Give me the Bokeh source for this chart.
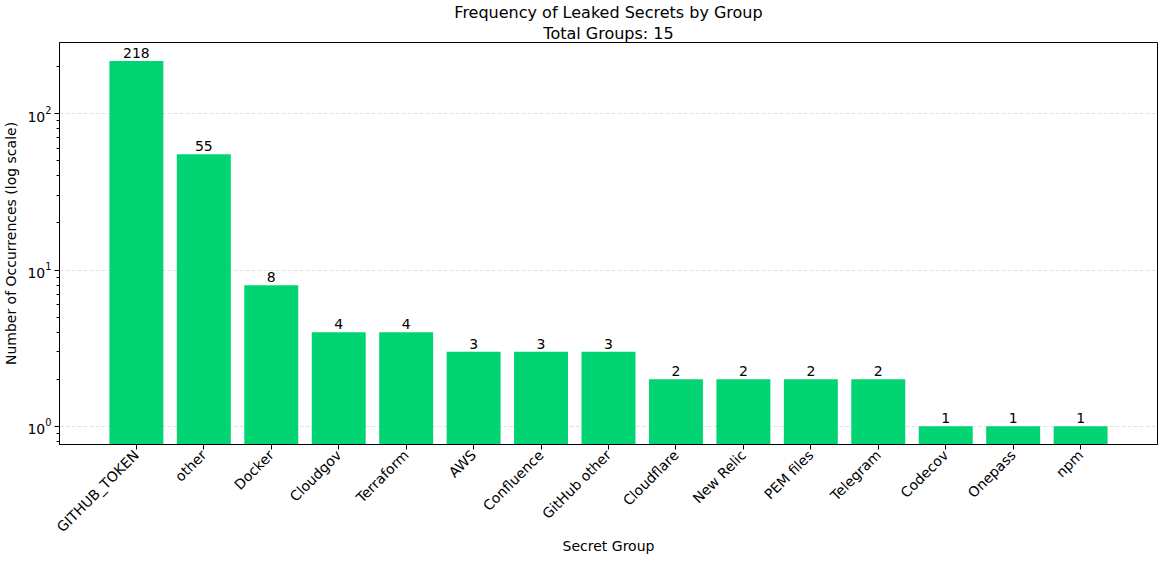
import math
from bokeh.plotting import figure
from bokeh.models import Range1d, Title, FixedTicker, LogTicker, ColumnDataSource
from bokeh.core.properties import value
from bokeh.embed import file_html
from bokeh.resources import INLINE

groups = ["GITHUB_TOKEN", "other", "Docker", "Cloudgov", "Terraform", "AWS", "Confluence",
          "GitHub other", "Cloudflare", "New Relic", "PEM files", "Telegram", "Codecov",
          "Onepass", "npm"]
counts = [218, 55, 8, 4, 4, 3, 3, 3, 2, 2, 2, 2, 1, 1, 1]
title_main = "Frequency of Leaked Secrets by Group"
title_sub = "Total Groups: 15"
x_title = "Secret Group"
y_title = "Number of Occurrences (log scale)"

FONT = "DejaVu Sans"
GREEN = "#02d473"
FS = "14px"

idx = list(range(len(groups)))
src = ColumnDataSource(dict(x=idx, top=counts, bottom=[0.3] * len(counts),
                            lbl=[str(c) for c in counts]))

p = figure(width=1159, height=556, output_backend="svg", toolbar_location=None,
           y_axis_type="log",
           x_range=Range1d(-1.14, len(groups) - 1 + 1.14),
           y_range=Range1d(0.764, 286),
           min_border_left=49, min_border_right=2, min_border_top=36, min_border_bottom=100)

p.add_layout(Title(text=title_sub, align="center", text_font=FONT, text_font_size="16px",
                   text_font_style="normal", text_color="black", standoff=0), "above")
p.add_layout(Title(text=title_main, align="center", text_font=FONT, text_font_size="16px",
                   text_font_style="normal", text_color="black", standoff=0), "above")

p.vbar(x="x", top="top", bottom="bottom", width=0.8, source=src,
       fill_color=GREEN, line_color=None)
p.text(x="x", y="top", text="lbl", source=src, text_align="center", text_baseline="bottom",
       y_offset=-3, text_font=value(FONT), text_font_size=FS, text_color="black")

p.outline_line_color = "black"
p.outline_line_width = 1
p.xgrid.grid_line_color = None
p.ygrid.grid_line_color = "#dcdcdc"
p.ygrid.grid_line_dash = "4 2"
p.ygrid.grid_line_width = 0.8

p.xaxis.ticker = FixedTicker(ticks=idx)
p.xaxis.major_label_overrides = {i: g for i, g in enumerate(groups)}
p.xaxis.major_label_orientation = math.pi / 4
p.xaxis.minor_tick_line_color = None
p.xaxis.axis_label = x_title

p.yaxis.ticker = LogTicker(num_minor_ticks=10)
p.yaxis.axis_label = y_title

for ax in (p.xaxis, p.yaxis):
    ax.axis_label_text_font = FONT
    ax.axis_label_text_font_size = FS
    ax.axis_label_text_font_style = "normal"
    ax.axis_label_text_color = "black"
    ax.major_label_text_font = FONT
    ax.major_label_text_font_size = FS
    ax.major_label_text_color = "black"
    ax.axis_line_color = "black"
    ax.major_tick_line_color = "black"
    ax.major_tick_in = 0
    ax.major_tick_out = 5
    ax.minor_tick_in = 0
    ax.minor_tick_out = 3
    ax.major_label_standoff = 3

p.yaxis.axis_label_standoff = 5
p.xaxis.axis_label_standoff = -6

p.background_fill_color = "white"
p.border_fill_color = "white"

open("out.html", "w").write(file_html(p, INLINE))
